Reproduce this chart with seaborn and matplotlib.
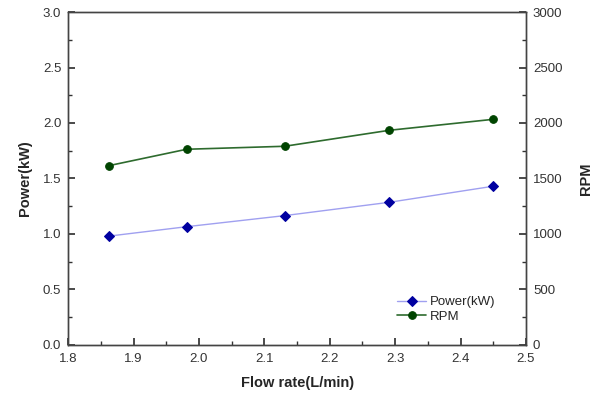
import matplotlib
matplotlib.use("Agg")
import matplotlib.pyplot as plt
import seaborn as sns
import pandas as pd
from matplotlib.ticker import MultipleLocator

flow_rate = [1.862, 1.981, 2.131, 2.291, 2.450]
power_kw = [0.98, 1.065, 1.165, 1.285, 1.43]
rpm = [1615, 1763, 1790, 1934, 2033]

df = pd.DataFrame({"flow": flow_rate, "power": power_kw, "rpm": rpm})

sns.set_theme(style="ticks")
plt.rcParams["font.family"] = ["Liberation Sans", "DejaVu Sans"]

fig, ax = plt.subplots(figsize=(5.93, 4.01), dpi=100)
ax2 = ax.twinx()

sns.lineplot(data=df, x="flow", y="power", ax=ax, color="#a0a0f0", lw=1,
             marker="D", markersize=5.5, markerfacecolor="#0000a0",
             markeredgecolor="#0000a0", label="Power(kW)", legend=False)
sns.lineplot(data=df, x="flow", y="rpm", ax=ax2, color="#2e6b2e", lw=1.2,
             marker="o", markersize=5.5, markerfacecolor="#004400",
             markeredgecolor="#004400", label="RPM", legend=False)

ax.set_xlim(1.8, 2.5)
ax.set_ylim(0, 3.0)
ax2.set_ylim(0, 3000)
ax.xaxis.set_major_locator(MultipleLocator(0.1))
ax.xaxis.set_minor_locator(MultipleLocator(0.05))
ax.yaxis.set_major_locator(MultipleLocator(0.5))
ax.yaxis.set_minor_locator(MultipleLocator(0.25))
ax2.yaxis.set_major_locator(MultipleLocator(500))
ax2.yaxis.set_minor_locator(MultipleLocator(250))

for a in (ax, ax2):
    a.tick_params(which="both", direction="in", labelsize=9.5, colors="#333333", pad=5)
    a.tick_params(which="major", length=5)
    a.tick_params(which="minor", length=3)
    for s in a.spines.values():
        s.set_color("#444444")
        s.set_linewidth(1)
ax.tick_params(axis="x", pad=6)

ax.set_xlabel("Flow rate(L/min)", fontsize=10.5, fontweight="bold", labelpad=8)
ax.set_ylabel("Power(kW)", fontsize=10.5, fontweight="bold", labelpad=8)
ax2.set_ylabel("RPM", fontsize=10.5, fontweight="bold", labelpad=12)

h1, l1 = ax.get_legend_handles_labels()
h2, l2 = ax2.get_legend_handles_labels()
ax2.legend(h1 + h2, l1 + l2, loc="lower right", bbox_to_anchor=(0.96, 0.03),
           frameon=False, fontsize=9.5, handlelength=2.2, handletextpad=0.3,
           labelspacing=0.2)

plt.subplots_adjust(left=0.115, right=0.887, top=0.97, bottom=0.14)
plt.savefig("out.png", dpi=100)
plt.close()
